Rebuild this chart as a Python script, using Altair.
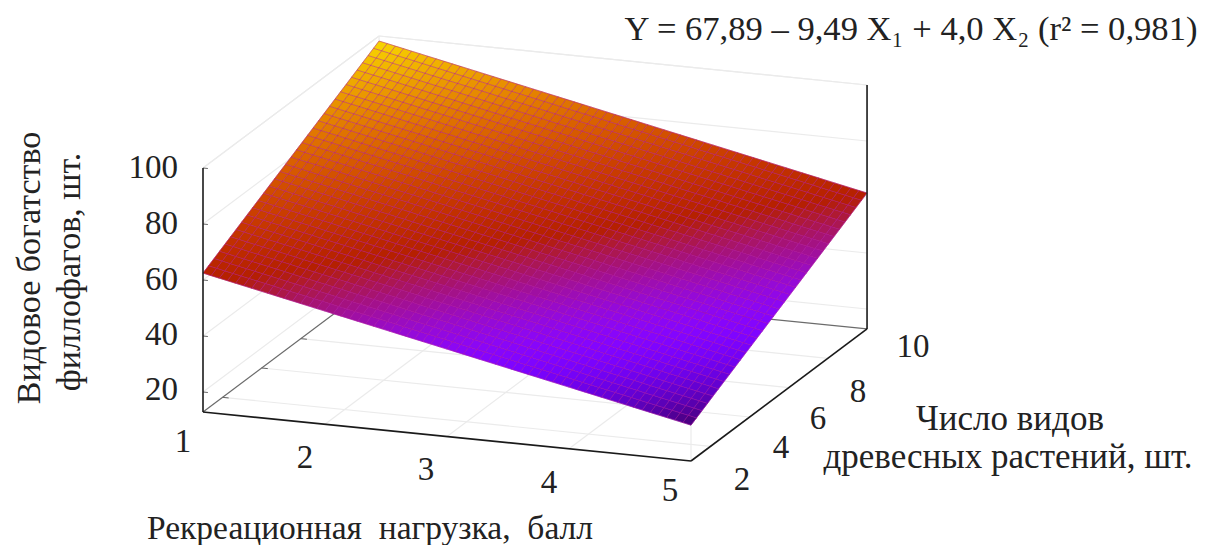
import math
import altair as alt
import pandas as pd

# --- values ---
x1_ticks = [1, 2, 3, 4, 5]
x2_ticks = [2, 4, 6, 8, 10]
z_ticks = [20, 40, 60, 80, 100]
x1_range = [1, 5]
x2_range = [1, 10]
z_floor = 12.86
# The surface is the fitted plane named in the chart's own caption; the plane's
# coefficients are the ones that best meet its four corners in the picture.
plane = [67.7, -9.2, 3.97]
n_x1, n_x2 = 60, 32
cb_range = [19.4, 102.6]

x1_label_pos = [(183, 442), (305, 458), (426, 470), (549, 483), (670, 491)]
x2_label_pos = [(742, 480), (781, 448), (818, 419), (858, 392), (913, 347)]
z_label_pos = [(178, 390), (178, 335), (178, 280), (178, 224), (178, 168)]

caption = "Y = 67,89 – 9,49 X₁ + 4,0 X₂ (r² = 0,981)"
y_title = ["Видовое богатство", "филлофагов, шт."]
x1_title = "Рекреационная\u00a0 нагрузка,\u00a0 балл"
x2_title = ["Число видов", "древесных растений, шт."]

TEXT = "#222222"
GRID = "#ebebeb"
FONT = "Liberation Serif"
W, H = 1197, 537


def project(a, b, z):
    """gnuplot-style orthographic view of (X1, X2, Z) -> picture coordinates."""
    return (203 + 122 * (a - 1) + 19.56 * (b - 1),
            412 + 12.25 * (a - 1) - 14.67 * (b - 1) - 2.8 * (z - z_floor))


def palette(z):
    t = max(0.0, min(1.0, (z - cb_range[0]) / (cb_range[1] - cb_range[0])))
    r, g, b = math.sqrt(t), t ** 3, max(0.0, math.sin(2 * math.pi * t))
    return "#%02x%02x%02x" % (round(r * 255), round(g * 255), round(b * 255))


def surf(a, b):
    return plane[0] + plane[1] * a + plane[2] * b


sx = alt.Scale(domain=[8, 8 + W], range=[0, W], nice=False, zero=False)
sy = alt.Scale(domain=[8, 8 + H], range=[0, H], nice=False, zero=False)
X = alt.X("x:Q", scale=sx, axis=None)
Y = alt.Y("y:Q", scale=sy, axis=None)


def segments(rows, color, width, opacity=1.0):
    df = pd.DataFrame(rows, columns=["x", "y", "x2", "y2"])
    return alt.Chart(df).mark_rule(color=color, strokeWidth=width, opacity=opacity).encode(
        x=X, y=Y, x2="x2:Q", y2="y2:Q")


def seg(p, q):
    return [*project(*p), *project(*q)]


a0, a1 = x1_range
b0, b1 = x2_range
z0, z1 = z_floor, 100

# light grid on floor and back walls, top of box
grid_rows = []
for a in x1_ticks[1:]:
    grid_rows.append(seg((a, b0, z0), (a, b1, z0)))
for b in x2_ticks[:-1]:
    grid_rows.append(seg((a0, b, z0), (a1, b, z0)))
for z in z_ticks:
    grid_rows.append(seg((a0, b0, z), (a0, b1, z)))
    grid_rows.append(seg((a0, b1, z), (a1, b1, z)))
grid_rows.append(seg((a0, b0, z1), (a0, b1, z1)))
grid_rows.append(seg((a0, b1, z1), (a1, b1, z1)))
grid_rows.append(seg((a0, b1, z0), (a0, b1, z1)))
grid_rows.append(seg((a1, b0, z0), (a1, b0, surf(a1, b0))))
grid = segments(grid_rows, GRID, 1.2)

# dark-grey back floor edges and their ticks
edge_rows = [seg((a0, b0, z0), (a0, b1, z0)), seg((a0, b1, z0), (a1, b1, z0))]
edges = segments(edge_rows, "#6b6b6b", 1.2)

tick_rows = []
for b in x2_ticks[:-1]:
    tick_rows.append(seg((a0, b, z0), (a0 + 0.05, b, z0)))
for z in z_ticks:
    tick_rows.append(seg((a0, b0, z), (a0 + 0.04, b0, z)))
ticks = segments(tick_rows, "#666666", 1)

# surface cells
cells = []
for i in range(n_x1):
    for j in range(n_x2):
        aa = a0 + (a1 - a0) * i / n_x1
        ab = a0 + (a1 - a0) * (i + 1) / n_x1
        ba = b0 + (b1 - b0) * j / n_x2
        bb = b0 + (b1 - b0) * (j + 1) / n_x2
        color = palette(surf((aa + ab) / 2, (ba + bb) / 2))
        corners = [(aa, ba), (ab, ba), (ab, bb), (aa, bb), (aa, ba)]
        for k, (p, q) in enumerate(corners):
            px, py = project(p, q, surf(p, q))
            cells.append({"x": round(px, 2), "y": round(py, 2), "c": color, "id": i * 1000 + j, "o": k})
surface = alt.Chart(pd.DataFrame(cells)).mark_line(filled=True, strokeWidth=0.5, interpolate="linear").encode(
    x=X, y=Y,
    fill=alt.Fill("c:N", scale=None),
    stroke=alt.Stroke("c:N", scale=None),
    detail="id:N",
    order="o:Q",
)

# mesh lines on the surface
mesh_rows = []
for i in range(n_x1 + 1):
    a = a0 + (a1 - a0) * i / n_x1
    mesh_rows.append(seg((a, b0, surf(a, b0)), (a, b1, surf(a, b1))))
for j in range(n_x2 + 1):
    b = b0 + (b1 - b0) * j / n_x2
    mesh_rows.append(seg((a0, b, surf(a0, b)), (a1, b, surf(a1, b))))
mesh = segments(mesh_rows, "#b0149e", 1.0, 0.5)

# black axes
axis_rows = [
    seg((a0, b0, z0), (a1, b0, z0)),
    seg((a1, b0, z0), (a1, b1, z0)),
    seg((a0, b0, z0), (a0, b0, z1)),
    seg((a1, b1, z0), (a1, b1, z1)),
]
axes = segments(axis_rows, "#1a1a1a", 1.6)


def texts(rows, size, align="center", angle=0):
    df = pd.DataFrame(rows, columns=["x", "y", "t"])
    return alt.Chart(df).mark_text(font=FONT, fontSize=size, color=TEXT, align=align,
                                   baseline="middle", angle=angle).encode(x=X, y=Y, text="t:N")


labels = [
    texts([(*p, str(v)) for p, v in zip(x1_label_pos, x1_ticks)], 33),
    texts([(*p, str(v)) for p, v in zip(x2_label_pos, x2_ticks)], 33),
    texts([(*p, str(v)) for p, v in zip(z_label_pos, z_ticks)], 33, align="right"),
    texts([(911, 30, caption)], 34.6),
    texts([(370, 529, x1_title)], 33.5),
    texts([(1010, 419, x2_title[0]), (1008, 457, x2_title[1])], 35),
    texts([(30, 268, y_title[0]), (70, 272, y_title[1])], 34, angle=270),
]

chart = alt.layer(grid, edges, ticks, surface, mesh, axes, *labels).properties(
    width=W, height=H, padding=0,
    autosize=alt.AutoSizeParams(type="fit", contains="padding"),
    background="white",
).configure_view(stroke=None)

chart.save("out.html", embed_options={"renderer": "svg", "actions": False})
